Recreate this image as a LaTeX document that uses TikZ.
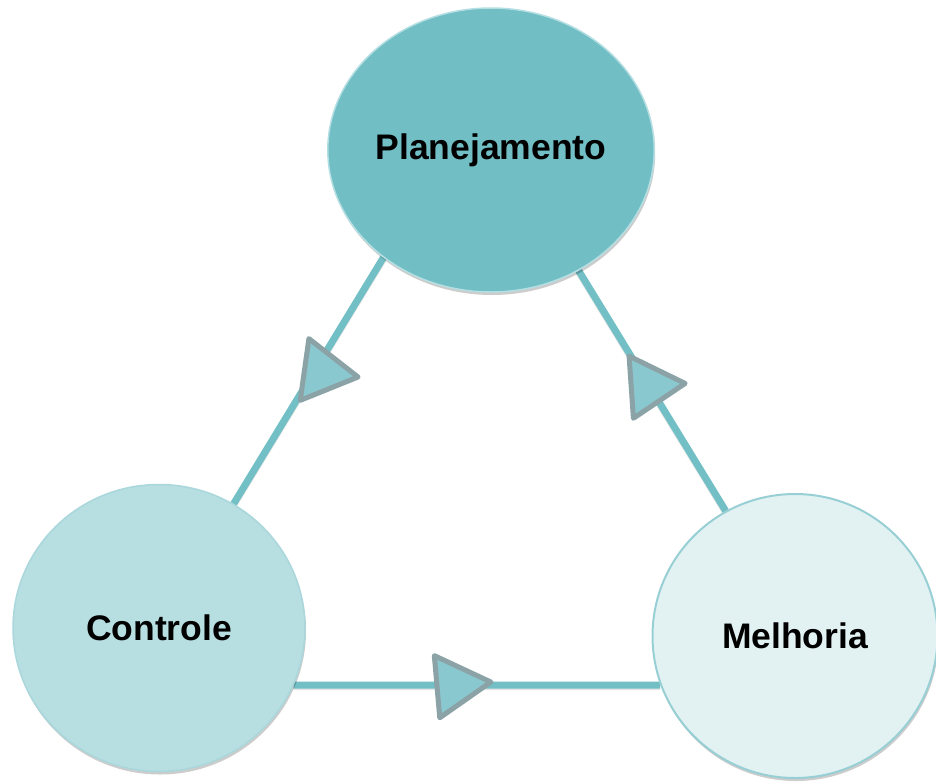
\documentclass[tikz,border=0pt]{standalone}
\usepackage{fontspec}
\setmainfont{Liberation Sans}
\usetikzlibrary{shapes.geometric,shadows,backgrounds}
\definecolor{planfill}{HTML}{71BEC5}
\definecolor{planedge}{HTML}{B3DEE2}
\definecolor{ctrlfill}{HTML}{B7DEE1}
\definecolor{ctrledge}{HTML}{A9D7DB}
\definecolor{melhfill}{HTML}{E2F2F3}
\definecolor{melhedge}{HTML}{98CFD4}
\definecolor{linkteal}{HTML}{72BFC5}
\definecolor{trifill}{HTML}{8AC8CF}
\definecolor{trigray}{HTML}{8BA3A6}

\begin{document}
\begin{tikzpicture}[
  x=1pt, y=-1pt,
  phase/.style={ellipse, line width=1.5pt, inner sep=0pt, font=\fontsize{35.5}{40}\selectfont\bfseries,
    drop shadow={shadow xshift=1pt, shadow yshift=-3pt, opacity=0.2, fill=black}},
  link/.style={line width=7pt, draw=linkteal,
    preaction={draw=black, opacity=0.1, line width=7pt, transform canvas={yshift=-1.5pt}}},
  flow/.style={regular polygon, regular polygon sides=3, shape border rotate=-90, minimum size=72pt,
    inner sep=0pt, fill=trifill, draw=trigray, line width=5pt, line join=round}
]
  \useasboundingbox (0,0) rectangle (936,782);

  % phases of the cycle
  \node[phase, fill=planfill, draw=planedge, minimum width=308pt, minimum height=284pt] (plan) at (491,150) {Planejamento};
  \node[phase, fill=ctrlfill, draw=ctrledge, minimum width=292pt, minimum height=287pt] (ctrl) at (159,628) {Controle};
  \node[phase, fill=melhfill, draw=melhedge, line width=2pt, minimum width=285pt, minimum height=284pt] (melh) at (795,636) {Melhoria};

  % connectors, behind the circles
  \begin{scope}[on background layer]
    \draw[link] (ctrl.59) -- node[flow, pos=0.54, rotate=-8, xshift=8pt] (f1) {} (plan.225);
    \draw[link] (plan.306) -- node[flow, pos=0.48, rotate=4] (f2) {} (melh.119);
    \draw[link] (ctrl.-23) -- node[flow, pos=0.44, rotate=5] (f3) {} (melh.200);
  \end{scope}
\end{tikzpicture}
\end{document}
